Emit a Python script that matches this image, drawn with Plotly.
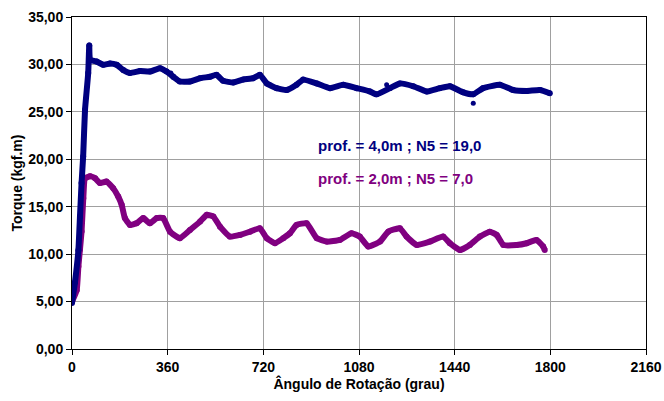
import plotly.graph_objects as go

# Series: prof. = 4,0m ; N5 = 19,0 (navy)
angle_4m = [0, 11, 24, 30, 36, 42, 49, 61, 65, 68, 93, 118, 143, 168, 193, 218, 256, 293, 331, 356,
            381, 406, 444, 482, 519, 544, 569, 607, 644, 682, 707, 733, 770, 808, 845, 870, 921, 971,
            1021, 1071, 1121, 1146, 1196, 1234, 1284, 1334, 1384, 1422, 1472, 1510, 1547, 1610, 1660,
            1711, 1761, 1798]
torque_4m = [4.85, 7.0, 10.4, 13.95, 17.5, 20.3, 25.2, 29.1, 32.0, 30.5, 30.3, 29.96, 30.1, 29.96,
             29.4, 29.1, 29.3, 29.25, 29.6, 29.25, 28.7, 28.2, 28.2, 28.55, 28.7, 28.9, 28.27, 28.1,
             28.4, 28.55, 28.9, 28.0, 27.5, 27.3, 27.85, 28.4, 28.0, 27.5, 27.85, 27.5, 27.15, 26.85,
             27.5, 28.0, 27.7, 27.15, 27.5, 27.7, 27.06, 26.85, 27.5, 27.85, 27.3, 27.2, 27.3, 26.96]
# isolated readings off the main band (navy)
angle_4m_out = [372, 1184, 1510]
torque_4m_out = [29.1, 27.85, 25.9]

# Series: prof. = 2,0m ; N5 = 7,0 (purple)
angle_2m = [0, 17.6, 24, 30, 36, 42.5, 49, 68, 87, 105, 130, 155, 174, 187, 199, 218, 243, 268, 293,
            319, 343, 369, 406, 444, 482, 507, 532, 557, 594, 632, 670, 707, 733, 764, 795, 820, 845,
            883, 921, 958, 1008, 1052, 1083, 1115, 1159, 1190, 1234, 1259, 1297, 1347, 1397, 1422,
            1460, 1497, 1535, 1572, 1598, 1623, 1673, 1711, 1748, 1773, 1779]
torque_2m = [5.0, 6.2, 8.7, 10.5, 12.4, 15.9, 18.0, 18.2, 18.0, 17.5, 17.65, 16.95, 16.07, 15.2, 13.8,
             13.08, 13.26, 13.8, 13.26, 13.8, 13.8, 12.37, 11.68, 12.55, 13.43, 14.14, 13.96, 12.9,
             11.85, 12.03, 12.37, 12.73, 11.68, 11.15, 11.68, 12.2, 13.08, 13.26, 11.68, 11.32, 11.5,
             12.2, 11.85, 10.8, 11.32, 12.37, 12.73, 11.85, 10.97, 11.32, 11.85, 11.15, 10.44, 10.97,
             11.85, 12.37, 12.03, 10.97, 10.97, 11.15, 11.5, 10.8, 10.44]

x_ticks = [0, 360, 720, 1080, 1440, 1800, 2160]
y_ticks = [0, 5, 10, 15, 20, 25, 30, 35]

NAVY = "#000080"
PURPLE = "#800080"
FONT = "Liberation Sans"

fig = go.Figure()
fig.add_trace(go.Scatter(x=angle_2m, y=torque_2m, mode="lines+markers",
                         line=dict(color=PURPLE, width=6, shape="spline", smoothing=0.4),
                         marker=dict(color=PURPLE, size=6), showlegend=False))
fig.add_trace(go.Scatter(x=angle_4m, y=torque_4m, mode="lines+markers",
                         line=dict(color=NAVY, width=6, shape="spline", smoothing=0.4),
                         marker=dict(color=NAVY, size=6), showlegend=False))
fig.add_trace(go.Scatter(x=angle_4m_out, y=torque_4m_out, mode="markers",
                         marker=dict(color=NAVY, size=5), showlegend=False))

fig.add_annotation(x=918, y=21.5, xref="x", yref="y", xanchor="left", yanchor="middle",
                   text="<b>prof. = 4,0m ; N5 = 19,0</b>", showarrow=False,
                   font=dict(family=FONT, size=15, color=NAVY))
fig.add_annotation(x=918, y=17.93, xref="x", yref="y", xanchor="left", yanchor="middle",
                   text="<b>prof. = 2,0m ; N5 = 7,0</b>", showarrow=False,
                   font=dict(family=FONT, size=15, color=PURPLE))

fig.update_layout(
    width=664, height=401,
    margin=dict(l=72, r=18, t=17, b=52),
    paper_bgcolor="white", plot_bgcolor="white",
    separators=",.",
    font=dict(family=FONT, size=14, color="black"),
    xaxis=dict(range=[0, 2160], tickvals=x_ticks, tickformat="d", automargin=False,
               showgrid=True, gridcolor="#a0a0a0", gridwidth=1,
               showline=True, linecolor="black", linewidth=1, mirror=True,
               ticks="outside", ticklen=5, tickcolor="black",
               tickfont=dict(family=FONT, size=14, color="black", weight="bold"),
               title=dict(text="<b>Ângulo de Rotação (grau)</b>", standoff=0,
                          font=dict(family=FONT, size=14)),
               zeroline=False),
    yaxis=dict(range=[0, 35], tickvals=y_ticks, tickformat=".2f", automargin=False,
               showgrid=True, gridcolor="#a0a0a0", gridwidth=1,
               showline=True, linecolor="black", linewidth=1, mirror=True,
               ticks="outside", ticklen=5, tickcolor="black",
               tickfont=dict(family=FONT, size=14, color="black", weight="bold"),
               title=dict(text="<b>Torque (kgf.m)</b>", standoff=2,
                          font=dict(family=FONT, size=14)),
               zeroline=False),
)

fig.write_html("out.html")
